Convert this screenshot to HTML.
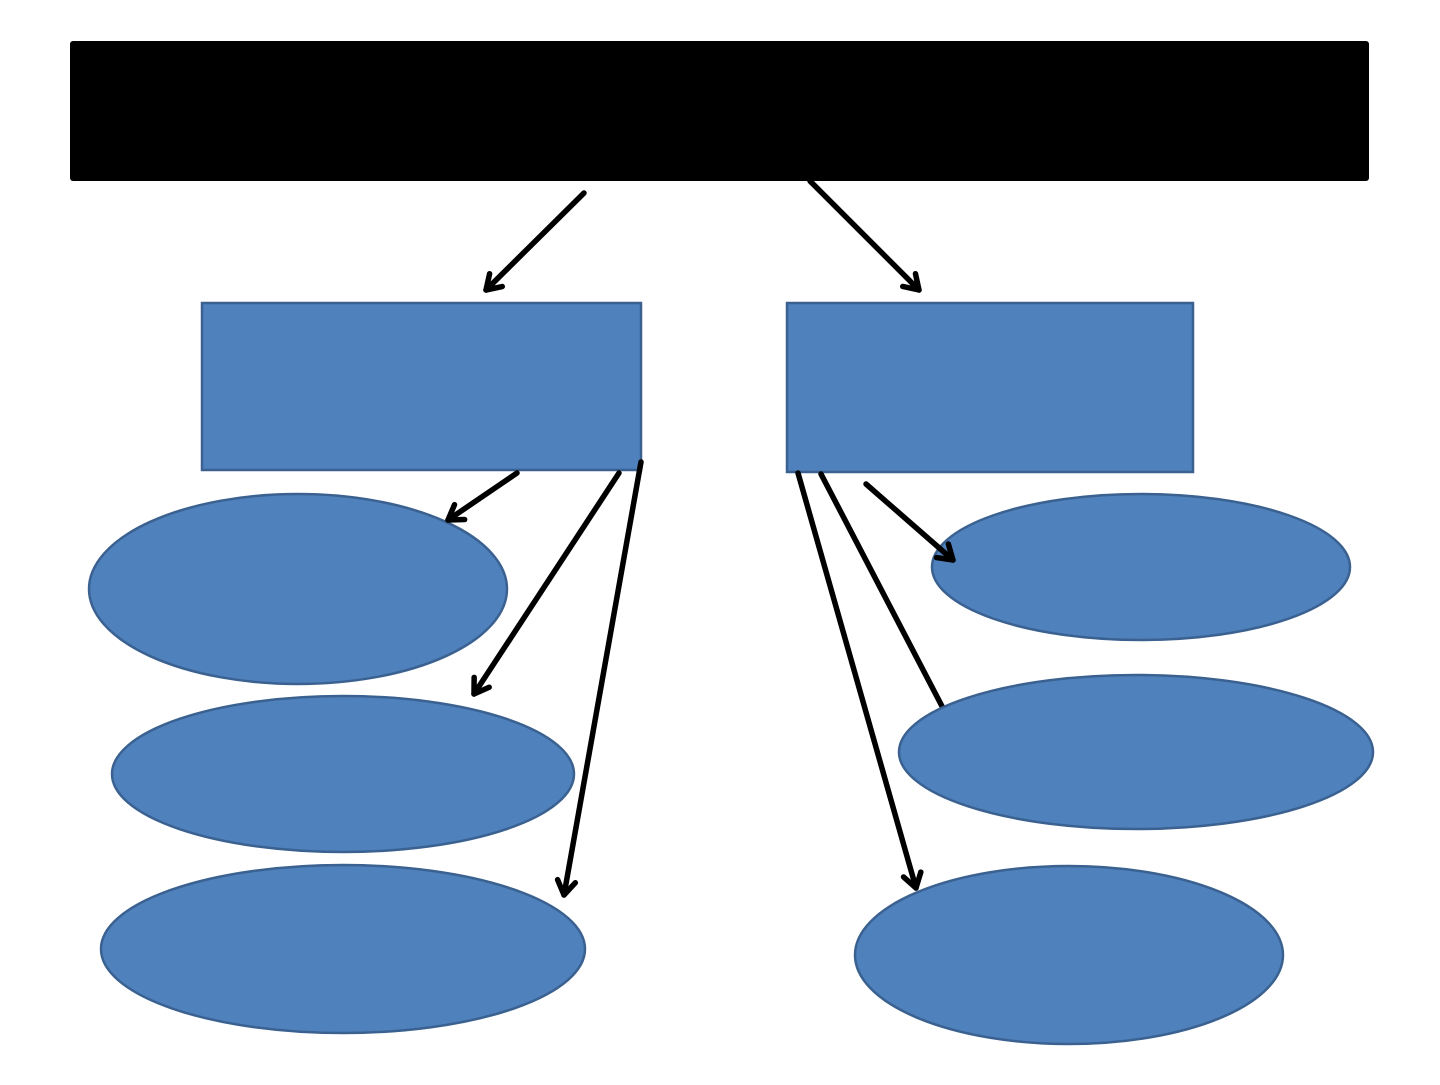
<!DOCTYPE html>
<html><head><style>html,body{margin:0;padding:0;background:#fff}</style></head>
<body>
<svg width="1440" height="1080" xmlns="http://www.w3.org/2000/svg">
<defs>
<marker id="a" viewBox="0 0 10 10" refX="0" refY="0" markerWidth="10" markerHeight="10" orient="auto" markerUnits="userSpaceOnUse" style="overflow:visible">
<polyline points="-14,-9 0,0 -14,9" fill="none" stroke="#000" stroke-width="5.5" stroke-linecap="round" stroke-linejoin="round"/>
</marker>
</defs>
<rect x="70" y="41" width="1299" height="140" rx="3" fill="#000"/>
<g fill="#4f81bd" stroke="#3a6190" stroke-width="2.5">
<rect x="202" y="303" width="439" height="167"/>
<rect x="787" y="303" width="406" height="169"/>
</g>
<g stroke="#000" stroke-width="5.5" stroke-linecap="round" fill="none">
<line x1="821" y1="474" x2="945" y2="712"/>
</g>
<g fill="#4f81bd" stroke="#3a6190" stroke-width="2.5">
<ellipse cx="298" cy="589" rx="209" ry="95"/>
<ellipse cx="343" cy="774" rx="231" ry="78"/>
<ellipse cx="343" cy="949" rx="242" ry="84"/>
<ellipse cx="1141" cy="567" rx="209" ry="73"/>
<ellipse cx="1136" cy="752" rx="237" ry="77"/>
<ellipse cx="1069" cy="955" rx="214" ry="89"/>
</g>
<g stroke="#000" stroke-width="5.5" stroke-linecap="round" fill="none" marker-end="url(#a)">
<line x1="584" y1="193" x2="486" y2="290"/>
<line x1="810" y1="181" x2="919" y2="290"/>
<line x1="517" y1="473" x2="448" y2="520"/>
<line x1="619" y1="473" x2="474" y2="694"/>
<line x1="641" y1="462" x2="564" y2="895"/>
<line x1="866" y1="484" x2="953" y2="560"/>
<line x1="798" y1="473" x2="916" y2="888"/>
</g>
</svg>
</body></html>
